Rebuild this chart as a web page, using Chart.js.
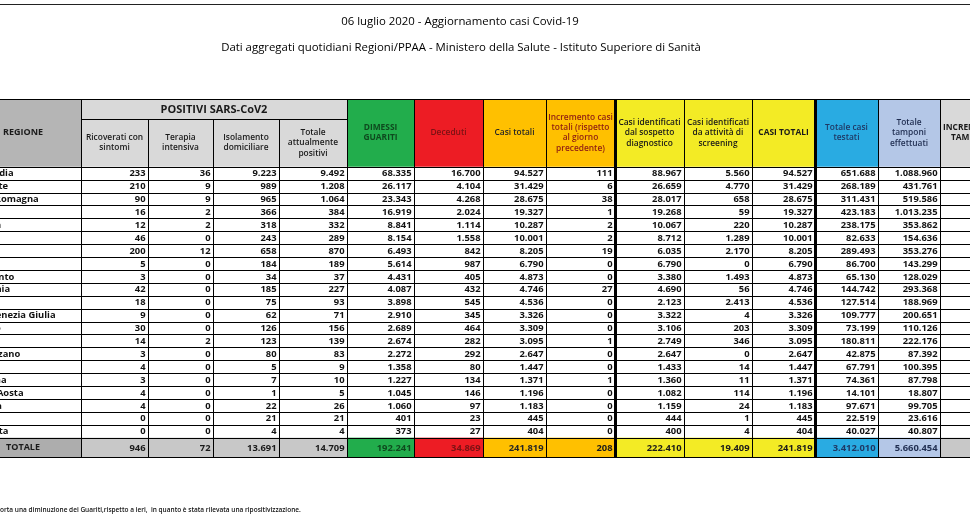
<!DOCTYPE html>
<html lang="it">
<head>
<meta charset="utf-8">
<title>06 luglio 2020 - Aggiornamento casi Covid-19</title>
<script src="https://cdn.jsdelivr.net/npm/chart.js@4.4.1/dist/chart.umd.min.js"></script>
<style>
    html, body { margin: 0; padding: 0; background: #fff; }
    #wrap { width: 970px; height: 517px; overflow: hidden; }
</style>
</head>
<body>
<div id="wrap"><canvas id="tabella" width="970" height="517"></canvas></div>
<script>
var TITLE = '06 luglio 2020 - Aggiornamento casi Covid-19';
var SUBTITLE = 'Dati aggregati quotidiani Regioni/PPAA - Ministero della Salute - Istituto Superiore di Sanità';
var NOTE = 'riporta una diminuzione dei Guariti,rispetto a ieri,  in quanto è stata rilevata una ripositivizzazione.';

var regioni = ['Lombardia', 'Piemonte', 'Emilia-Romagna', 'Veneto', 'Toscana', 'Liguria', 'Lazio', 'Marche',
    'P.A. Trento', 'Campania', 'Puglia', 'Friuli Venezia Giulia', 'Abruzzo', 'Sicilia', 'P.A. Bolzano',
    'Umbria', 'Sardegna', "Valle d'Aosta", 'Calabria', 'Molise', 'Basilicata'];

var ricoverati = [233, 210, 90, 16, 12, 46, 200, 5, 3, 42, 18, 9, 30, 14, 3, 4, 3, 4, 4, 0, 0];
var terapiaIntensiva = [36, 9, 9, 2, 2, 0, 12, 0, 0, 0, 0, 0, 0, 2, 0, 0, 0, 0, 0, 0, 0];
var isolamento = [9223, 989, 965, 366, 318, 243, 658, 184, 34, 185, 75, 62, 126, 123, 80, 5, 7, 1, 22, 21, 4];
var totalePositivi = [9492, 1208, 1064, 384, 332, 289, 870, 189, 37, 227, 93, 71, 156, 139, 83, 9, 10, 5, 26, 21, 4];
var dimessiGuariti = [68335, 26117, 23343, 16919, 8841, 8154, 6493, 5614, 4431, 4087, 3898, 2910, 2689, 2674,
    2272, 1358, 1227, 1045, 1060, 401, 373];
var deceduti = [16700, 4104, 4268, 2024, 1114, 1558, 842, 987, 405, 432, 545, 345, 464, 282, 292, 80, 134, 146, 97, 23, 27];
var casiTotali = [94527, 31429, 28675, 19327, 10287, 10001, 8205, 6790, 4873, 4746, 4536, 3326, 3309, 3095,
    2647, 1447, 1371, 1196, 1183, 445, 404];
var incrementoCasi = [111, 6, 38, 1, 2, 2, 19, 0, 0, 27, 0, 0, 0, 1, 0, 0, 1, 0, 0, 0, 0];
var sospettoDiagnostico = [88967, 26659, 28017, 19268, 10067, 8712, 6035, 6790, 3380, 4690, 2123, 3322, 3106,
    2749, 2647, 1433, 1360, 1082, 1159, 444, 400];
var screening = [5560, 4770, 658, 59, 220, 1289, 2170, 0, 1493, 56, 2413, 4, 203, 346, 0, 14, 11, 114, 24, 1, 4];
var casiTestati = [651688, 268189, 311431, 423183, 238175, 82633, 289493, 86700, 65130, 144742, 127514, 109777,
    73199, 180811, 42875, 67791, 74361, 14101, 97671, 22519, 40027];
var tamponi = [1088960, 431761, 519586, 1013235, 353862, 154636, 353276, 143299, 128029, 293368, 188969, 200651,
    110126, 222176, 87392, 100395, 87798, 18807, 99705, 23616, 40807];

// riga TOTALE, nello stesso ordine delle colonne numeriche
var totali = [946, 72, 13691, 14709, 192241, 34869, 241819, 208, 222410, 19409, 241819, 3412010, 5660454];

// bordi delle colonne (unita' dell'asse x) e altezze in unita' di riga (asse y)
var colEdges = [-39, 81, 148, 213, 279, 347, 414, 483, 546, 615, 684, 752, 815, 878, 940, 1002];
var REGION_CENTER = 23;
var HEADER_ROWS = 5.25;
var SUBHEADER_AT = -3.7;
var TOTAL_ROWS = 1.5;
var FONT = "'Open Sans', sans-serif";

var columns = [
    {head: ['REGIONE'], bg: '#b5b5b5', fg: '#1a1a1a', weight: 'bold', size: 9, totalBg: '#adadad'},
    {head: ['Ricoverati con', 'sintomi'], values: ricoverati, sub: true, bg: '#d9d9d9', fg: '#1a1a1a', totalBg: '#c8c8c8'},
    {head: ['Terapia', 'intensiva'], values: terapiaIntensiva, sub: true, bg: '#d9d9d9', fg: '#1a1a1a', totalBg: '#c8c8c8'},
    {head: ['Isolamento', 'domiciliare'], values: isolamento, sub: true, bg: '#d9d9d9', fg: '#1a1a1a', totalBg: '#c8c8c8'},
    {head: ['Totale', 'attualmente', 'positivi'], values: totalePositivi, sub: true, bg: '#d9d9d9', fg: '#1a1a1a', totalBg: '#c8c8c8'},
    {head: ['DIMESSI', 'GUARITI'], values: dimessiGuariti, bg: '#22ad4c', fg: '#0e4a1e', weight: 'bold', totalBg: '#22ad4c'},
    {head: ['Deceduti'], values: deceduti, bg: '#ed1c24', fg: '#7a1214', totalBg: '#ed1c24'},
    {head: ['Casi totali'], values: casiTotali, bg: '#ffc000', fg: '#262626', totalBg: '#ffc000'},
    {head: ['Incremento casi', 'totali (rispetto', 'al giorno', 'precedente)'], values: incrementoCasi, bg: '#ffc000', fg: '#8f1d12', totalBg: '#ffc000'},
    {head: ['Casi identificati', 'dal sospetto', 'diagnostico'], values: sospettoDiagnostico, bg: '#f3eb25', fg: '#1a1a1a', totalBg: '#f3eb25'},
    {head: ['Casi identificati', 'da attività di', 'screening'], values: screening, bg: '#f3eb25', fg: '#1a1a1a', totalBg: '#f3eb25'},
    {head: ['CASI TOTALI'], values: casiTotali, bg: '#f3eb25', fg: '#1a1a1a', weight: 'bold', totalBg: '#f3eb25'},
    {head: ['Totale casi', 'testati'], values: casiTestati, bg: '#29abe2', fg: '#1f3864', totalBg: '#29abe2'},
    {head: ['Totale', 'tamponi', 'effettuati'], values: tamponi, bg: '#b4c7e7', fg: '#1f2d50', totalBg: '#b4c7e7'},
    {head: ['INCREMENTO', 'TAMPONI'], bg: '#d9d9d9', fg: '#1a1a1a', weight: 'bold', totalBg: '#c8c8c8'}
];
var thickEdges = [615, 815];

/**
 * Numero con separatore delle migliaia all'italiana.
 * @param  {number} n
 * @return {string}
 */
function formatNumber(n) {
    return String(n).replace(/\B(?=(\d{3})+(?!\d))/g, '.');
}

var tablePlugin = {
    id: 'tabellaCovid',
    afterDraw: function(chart) {
        var ctx = chart.ctx,
            sx = chart.scales.x,
            sy = chart.scales.y,
            top = -HEADER_ROWS,
            bottom = regioni.length + TOTAL_ROWS;

        function px(v) { return sx.getPixelForValue(v); }
        function py(v) { return sy.getPixelForValue(v); }

        function fillCell(c, r0, r1, color) {
            ctx.fillStyle = color;
            ctx.fillRect(px(colEdges[c]), py(r0), px(colEdges[c + 1]) - px(colEdges[c]), py(r1) - py(r0));
        }

        function hLine(v, x0, x1) {
            var yy = Math.round(py(v)) + 0.5;
            ctx.beginPath();
            ctx.moveTo(px(x0), yy);
            ctx.lineTo(px(x1), yy);
            ctx.stroke();
        }

        function vLine(v, r0, r1, width) {
            var xx = Math.round(px(v)) + (width % 2 ? 0.5 : 0);
            ctx.lineWidth = width;
            ctx.beginPath();
            ctx.moveTo(xx, Math.round(py(r0)));
            ctx.lineTo(xx, Math.round(py(r1)) + 1);
            ctx.stroke();
        }

        ctx.save();

        // Titoli
        ctx.fillStyle = '#000';
        ctx.textAlign = 'center';
        ctx.textBaseline = 'middle';
        ctx.font = '11.4px ' + FONT;
        ctx.fillText(TITLE, px(460), 22);
        ctx.fillText(SUBTITLE, px(461), 48);

        ctx.strokeStyle = '#222';
        ctx.lineWidth = 1;
        ctx.beginPath();
        ctx.moveTo(0, 4.5);
        ctx.lineTo(chart.width, 4.5);
        ctx.stroke();

        // Sfondi intestazione e riga TOTALE
        columns.forEach(function(col, c) {
            if (col.sub) {
                fillCell(c, top, SUBHEADER_AT, col.bg);
                fillCell(c, SUBHEADER_AT, 0, col.bg);
            } else {
                fillCell(c, top, 0, col.bg);
            }
            fillCell(c, regioni.length, bottom, col.totalBg);
        });

        // Testi intestazione
        ctx.textAlign = 'center';
        ctx.textBaseline = 'middle';
        ctx.fillStyle = '#1a1a1a';
        ctx.font = 'bold 11px ' + FONT;
        ctx.fillText('POSITIVI SARS-CoV2', (px(colEdges[1]) + px(colEdges[5])) / 2, (py(top) + py(SUBHEADER_AT)) / 2 + 1);

        columns.forEach(function(col, c) {
            var cx = c === 0 ? px(REGION_CENTER) : (px(colEdges[c]) + px(colEdges[c + 1])) / 2,
                r0 = col.sub ? SUBHEADER_AT : top,
                cy = (py(r0) + py(0)) / 2,
                lh = 10.4;

            ctx.fillStyle = col.fg;
            ctx.font = (col.weight || '600') + ' ' + (col.size || 8.4) + 'px ' + FONT;
            col.head.forEach(function(line, i) {
                ctx.fillText(line, cx, cy + (i - (col.head.length - 1) / 2) * lh);
            });
        });

        // Dati
        ctx.font = 'bold 9.4px ' + FONT;
        ctx.textBaseline = 'middle';
        regioni.forEach(function(nome, r) {
            var cy = (py(r) + py(r + 1)) / 2 + 0.5;

            ctx.fillStyle = '#111';
            ctx.textAlign = 'left';
            ctx.fillText(nome, px(colEdges[0]) + 2, cy);

            ctx.textAlign = 'right';
            columns.forEach(function(col, c) {
                if (!col.values) {
                    return;
                }
                ctx.fillText(formatNumber(col.values[r]), px(colEdges[c + 1]) - 2.5, cy);
            });
        });

        // Riga TOTALE
        var ty = (py(regioni.length) + py(bottom)) / 2 + 0.5;
        ctx.textAlign = 'center';
        ctx.fillStyle = '#1a1a1a';
        ctx.font = 'bold 9px ' + FONT;
        ctx.fillText('TOTALE', px(REGION_CENTER), ty);
        ctx.font = 'bold 9.4px ' + FONT;
        ctx.textAlign = 'right';
        var t = 0;
        columns.forEach(function(col, c) {
            if (!col.values) {
                return;
            }
            ctx.fillStyle = col.fg === '#8f1d12' ? '#1a1a1a' : col.fg;
            ctx.fillText(formatNumber(totali[t++]), px(colEdges[c + 1]) - 2.5, ty);
        });

        // Griglia
        ctx.strokeStyle = '#000';
        ctx.lineWidth = 1;
        var xFirst = colEdges[0], xLast = colEdges[colEdges.length - 1];
        hLine(top, xFirst, xLast);
        hLine(SUBHEADER_AT, colEdges[1], colEdges[5]);
        for (var r = 0; r <= regioni.length; r++) {
            hLine(r, xFirst, xLast);
        }
        hLine(bottom, xFirst, xLast);

        colEdges.forEach(function(edge, i) {
            var inner = i >= 2 && i <= 4;
            vLine(edge, inner ? SUBHEADER_AT : top, bottom, thickEdges.indexOf(edge) > -1 ? 3 : 1);
        });

        // Nota a pie' di pagina (tagliata a sinistra come nell'originale)
        ctx.font = '600 6.5px ' + FONT;
        ctx.fillStyle = '#111';
        ctx.textAlign = 'left';
        ctx.textBaseline = 'middle';
        ctx.fillText(NOTE, -ctx.measureText('rip').width, 510);

        ctx.restore();
    }
};

new Chart(document.getElementById('tabella').getContext('2d'), {
    type: 'scatter',
    data: {datasets: []},
    options: {
        responsive: false,
        animation: false,
        devicePixelRatio: 1,
        layout: {padding: {top: 99, bottom: 60, left: 0, right: 0}},
        plugins: {legend: {display: false}, tooltip: {enabled: false}},
        scales: {
            x: {type: 'linear', display: false, min: 0, max: 970},
            y: {type: 'linear', display: false, reverse: true, min: -HEADER_ROWS, max: regioni.length + TOTAL_ROWS}
        }
    },
    plugins: [tablePlugin]
});
</script>
</body>
</html>
